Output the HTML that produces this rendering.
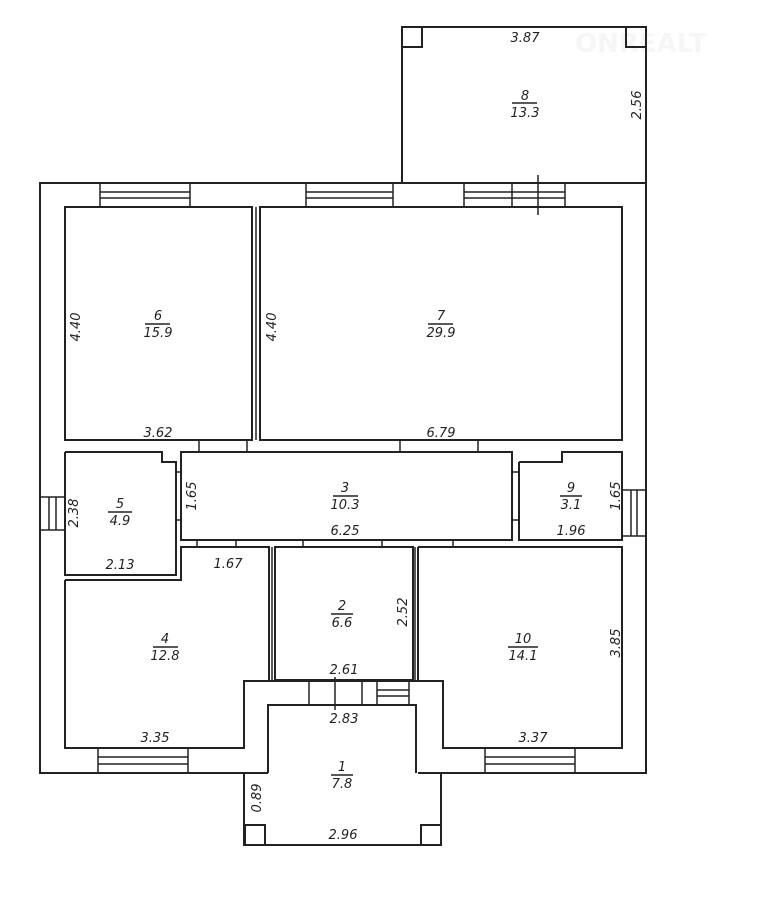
<!DOCTYPE html>
<html><head><meta charset="utf-8"><style>
html,body{margin:0;padding:0;background:#fff;}
svg{display:block}
text{font-family:"DejaVu Sans","Liberation Sans",sans-serif;font-style:italic;font-size:13px;fill:#222}
</style></head><body>
<svg width="763" height="910" viewBox="0 0 763 910" xmlns="http://www.w3.org/2000/svg">
<!-- watermark -->
<text x="575" y="52" style="font-style:normal;font-weight:bold;font-size:26px;fill:#f6f6f6">ONREALT</text>
<g fill="none" stroke="#222" stroke-width="2">
<!-- room 8 -->
<polyline points="402,183 402,27 646,27 646,183"/>
<rect x="402" y="27" width="20" height="20"/>
<rect x="626" y="27" width="20" height="20"/>
<!-- outer walls main -->
<polyline points="268,773 40,773 40,183 646,183 646,773 418,773"/>
<!-- porch -->
<polyline points="244,773 244,845 441,845 441,773"/>
<line x1="269" y1="681" x2="418" y2="681"/>
<rect x="245" y="825" width="20" height="20"/>
<rect x="421" y="825" width="20" height="20"/>
<!-- rooms -->
<rect x="65" y="207" width="187" height="233"/>
<rect x="260" y="207" width="362" height="233"/>
<rect x="181" y="452" width="331" height="88"/>
<polyline points="65,452 162,452 162,462 176,462 176,575 65,575 65,452"/>
<polyline points="519,462 562,462 562,452 622,452 622,540 519,540 519,462"/>
<polyline points="65,580 181,580 181,547 269,547 269,681 244,681 244,748 65,748 65,580"/>
<rect x="275" y="547" width="138" height="133"/>
<polyline points="418,547 622,547 622,748 443,748 443,681 418,681 418,547"/>
<polyline points="268,773 268,705 416,705 416,773"/>
</g>
<g fill="none" stroke="#222" stroke-width="1.5">
<line x1="199" y1="440" x2="199" y2="452"/><line x1="247" y1="440" x2="247" y2="452"/>
<line x1="400" y1="440" x2="400" y2="452"/><line x1="478" y1="440" x2="478" y2="452"/>
<line x1="176" y1="472" x2="181" y2="472"/><line x1="176" y1="520" x2="181" y2="520"/>
<line x1="512" y1="472" x2="519" y2="472"/><line x1="512" y1="520" x2="519" y2="520"/>
<line x1="197" y1="540" x2="197" y2="547"/><line x1="236" y1="540" x2="236" y2="547"/>
<line x1="303" y1="540" x2="303" y2="547"/><line x1="382" y1="540" x2="382" y2="547"/>
<line x1="453" y1="540" x2="453" y2="547"/>
<line x1="272" y1="547" x2="272" y2="681"/><line x1="415" y1="547" x2="415" y2="681"/>
<line x1="256" y1="207" x2="256" y2="440"/>
<rect x="100" y="183" width="90" height="24"/><line x1="100" y1="192" x2="190" y2="192"/><line x1="100" y1="198" x2="190" y2="198"/>
<rect x="306" y="183" width="87" height="24"/><line x1="306" y1="192" x2="393" y2="192"/><line x1="306" y1="198" x2="393" y2="198"/>
<rect x="464" y="183" width="101" height="24"/><line x1="464" y1="192" x2="565" y2="192"/><line x1="464" y1="198" x2="565" y2="198"/>
<line x1="512" y1="183" x2="512" y2="207"/><line x1="538" y1="175" x2="538" y2="215"/>
<rect x="40" y="497" width="25" height="33"/><line x1="49" y1="497" x2="49" y2="530"/><line x1="56" y1="497" x2="56" y2="530"/>
<rect x="622" y="490" width="24" height="46"/><line x1="631" y1="490" x2="631" y2="536"/><line x1="637" y1="490" x2="637" y2="536"/>
<rect x="98" y="748" width="90" height="25"/><line x1="98" y1="757" x2="188" y2="757"/><line x1="98" y1="764" x2="188" y2="764"/>
<rect x="485" y="748" width="90" height="25"/><line x1="485" y1="757" x2="575" y2="757"/><line x1="485" y1="764" x2="575" y2="764"/>
<line x1="309" y1="681" x2="309" y2="705"/><line x1="362" y1="681" x2="362" y2="705"/>
<line x1="377" y1="681" x2="377" y2="705"/><line x1="409" y1="681" x2="409" y2="705"/>
<line x1="377" y1="690" x2="409" y2="690"/><line x1="377" y1="696" x2="409" y2="696"/>
<line x1="335" y1="677" x2="335" y2="710"/>
<line x1="512" y1="103" x2="537" y2="103"/>
<line x1="145" y1="324" x2="170" y2="324"/>
<line x1="428" y1="324" x2="453" y2="324"/>
<line x1="333" y1="496" x2="358" y2="496"/>
<line x1="108" y1="512" x2="132" y2="512"/>
<line x1="560" y1="496" x2="582" y2="496"/>
<line x1="153" y1="647" x2="178" y2="647"/>
<line x1="331" y1="614" x2="353" y2="614"/>
<line x1="508" y1="647" x2="538" y2="647"/>
<line x1="331" y1="775" x2="353" y2="775"/>
</g>
<g text-anchor="middle">
<text x="525" y="42">3.87</text>
<text x="525" y="100">8</text><text x="525" y="117">13.3</text>
<text x="158" y="320">6</text><text x="158" y="337">15.9</text>
<text x="441" y="320">7</text><text x="441" y="337">29.9</text>
<text x="158" y="437">3.62</text>
<text x="441" y="437">6.79</text>
<text x="345" y="492">3</text><text x="345" y="509">10.3</text>
<text x="345" y="535">6.25</text>
<text x="120" y="508">5</text><text x="120" y="525">4.9</text>
<text x="120" y="569">2.13</text>
<text x="571" y="492">9</text><text x="571" y="509">3.1</text>
<text x="571" y="535">1.96</text>
<text x="228" y="568">1.67</text>
<text x="165" y="643">4</text><text x="165" y="660">12.8</text>
<text x="342" y="610">2</text><text x="342" y="627">6.6</text>
<text x="523" y="643">10</text><text x="523" y="660">14.1</text>
<text x="155" y="742">3.35</text>
<text x="533" y="742">3.37</text>
<text x="344" y="674">2.61</text>
<text x="344" y="723">2.83</text>
<text x="342" y="771">1</text><text x="342" y="788">7.8</text>
<text x="343" y="839">2.96</text>
<text transform="translate(641,105) rotate(-90)">2.56</text>
<text transform="translate(80,327) rotate(-90)">4.40</text>
<text transform="translate(276,327) rotate(-90)">4.40</text>
<text transform="translate(78,513) rotate(-90)">2.38</text>
<text transform="translate(196,496) rotate(-90)">1.65</text>
<text transform="translate(620,496) rotate(-90)">1.65</text>
<text transform="translate(407,612) rotate(-90)">2.52</text>
<text transform="translate(620,643) rotate(-90)">3.85</text>
<text transform="translate(261,798) rotate(-90)">0.89</text>
</g>
</svg>
</body></html>
